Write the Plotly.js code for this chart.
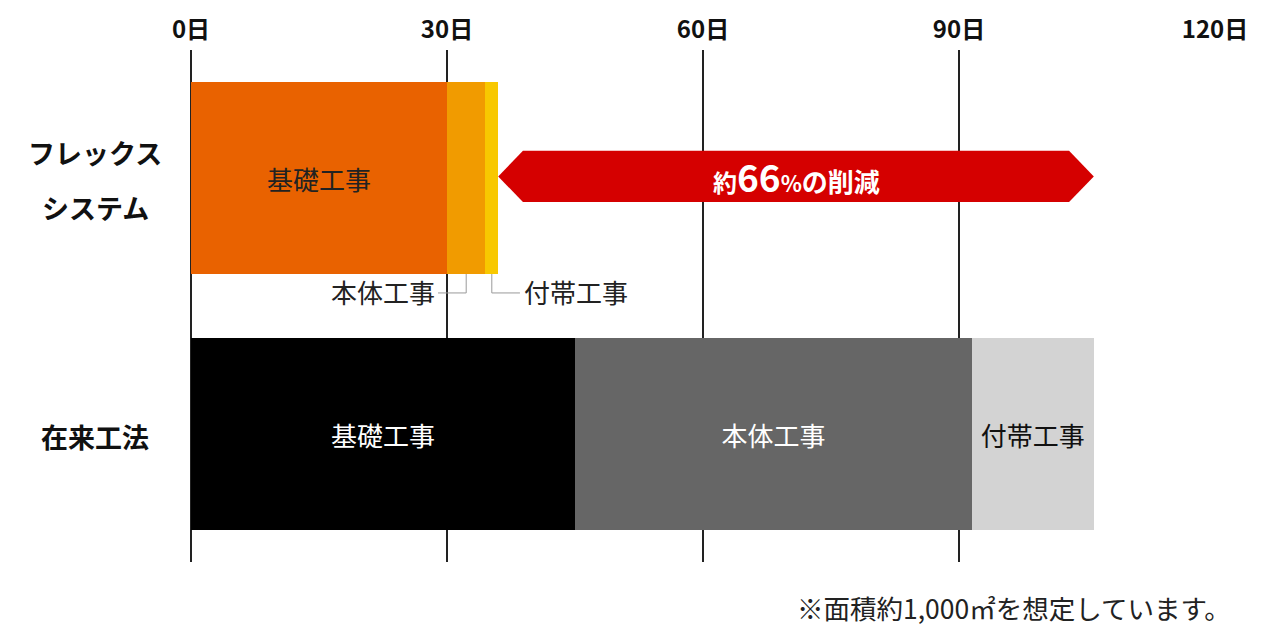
<!DOCTYPE html>
<html>
<head>
<meta charset="utf-8">
<script src="https://cdn.plot.ly/plotly-3.0.1.min.js"></script>
<style>
  html, body { margin: 0; padding: 0; background: #fff; }
  #chart { width: 1280px; height: 640px; }
</style>
</head>
<body>
<div id="chart"></div>
<script>
  // Values (days per phase).
  const categories = ["フレックスシステム", "在来工法"];
  const categoryLines = [["フレックス", "システム"], ["在来工法"]];
  const phases = ["基礎工事", "本体工事", "付帯工事"];
  const flexDays = [30, 4.5, 1.5];
  const conventionalDays = [45, 46.5, 14.3];
  const tickDays = [0, 30, 60, 90, 120];
  const reductionText = "約66%の削減";
  const footnote = "※面積約1,000㎡を想定しています。";

  const FONT = "Noto Sans CJK JP, Noto Sans, sans-serif";
  const FLEX_COLOURS = ["#E96200", "#F19B00", "#F8C800"];
  const CONV_COLOURS = ["#000000", "#666666", "#D3D3D3"];
  const CONV_TEXT = ["#FFFFFF", "#FFFFFF", "#111111"];
  const ARROW_RED = "#D50000";
  const CALLOUT_GREY = "#9A9A9A";

  const yPos = categories.map((_, i) => i);
  const BAR_W = 0.75;

  const sum = (a) => a.reduce((s, v) => s + v, 0);

  // One trace per phase, stacked: flex row + conventional row.
  const traces = phases.map((p, i) => ({
    type: "bar",
    orientation: "h",
    name: p,
    y: yPos,
    x: [flexDays[i], conventionalDays[i]],
    width: BAR_W,
    marker: { color: [FLEX_COLOURS[i], CONV_COLOURS[i]], line: { width: 0 } },
    // only the flex foundation bar carries its label inside; the thin ones get callouts
    text: [i === 0 ? p : "", p],
    textposition: "inside",
    insidetextanchor: "middle",
    constraintext: "none",
    textfont: { family: FONT, size: 26, color: ["#222222", CONV_TEXT[i]] },
    hoverinfo: "skip",
    showlegend: false,
  }));

  // ---- callouts for the thin flex segments ----
  const barBottom = yPos[0] + BAR_W / 2;
  const calloutY = yPos[0] + 0.449;
  const mainMid = flexDays[0] + flexDays[1] / 2;
  const extraMid = flexDays[0] + flexDays[1] + flexDays[2] / 2;
  const line = { color: CALLOUT_GREY, width: 1 };
  const shapes = [
    { type: "line", xref: "x", yref: "y", x0: mainMid, x1: mainMid, y0: barBottom, y1: calloutY, line },
    { type: "line", xref: "x", yref: "y", x0: mainMid, x1: mainMid - 3.3, y0: calloutY, y1: calloutY, line },
    { type: "line", xref: "x", yref: "y", x0: extraMid, x1: extraMid, y0: barBottom, y1: calloutY, line },
    { type: "line", xref: "x", yref: "y", x0: extraMid, x1: extraMid + 3.3, y0: calloutY, y1: calloutY, line },
  ];

  // ---- reduction arrow, spanning flex total -> conventional total ----
  const xs = sum(flexDays);
  const xe = sum(conventionalDays);
  const head = 2.9;
  const yc = yPos[0] - 0.006;
  const half = 0.1;
  shapes.push({
    type: "path",
    xref: "x",
    yref: "y",
    path: `M${xs},${yc} L${xs + head},${yc - half} L${xe - head},${yc - half} ` +
          `L${xe},${yc} L${xe - head},${yc + half} L${xs + head},${yc + half} Z`,
    fillcolor: ARROW_RED,
    line: { width: 0 },
    layer: "above",
  });

  const annotations = [];

  // category labels on the left
  const labelX = (95 - 191) / 1024;
  categoryLines.forEach((lines, i) => {
    const shifts = lines.length === 2 ? [26, -29] : [-2];
    lines.forEach((t, j) => {
      annotations.push({
        xref: "paper", yref: "y", x: labelX, y: yPos[i],
        xanchor: "center", yanchor: "middle", yshift: shifts[j],
        text: t, showarrow: false,
        font: { family: FONT, size: 27, color: "#111", weight: "bold" },
      });
    });
  });

  // callout texts
  annotations.push(
    {
      xref: "x", yref: "y", x: mainMid - 3.4, y: calloutY, xanchor: "right", yanchor: "middle",
      text: phases[1], showarrow: false, yshift: 1,
      font: { family: FONT, size: 26, color: "#222" },
    },
    {
      xref: "x", yref: "y", x: extraMid + 3.5, y: calloutY, xanchor: "left", yanchor: "middle",
      text: phases[2], showarrow: false, yshift: 1,
      font: { family: FONT, size: 26, color: "#222" },
    },
  );

  // arrow label: mixed sizes
  const m = reductionText.match(/^(約)(\d+)(%)(.*)$/);
  annotations.push({
    xref: "x", yref: "y", x: (xs + xe) / 2, y: yc, xanchor: "center", yanchor: "middle",
    text: `<span style="font-size:24px">${m[1]}</span><span style="font-size:37px">${m[2]}</span>` +
          `<span style="font-size:22px">${m[3]}</span><span style="font-size:26px">${m[4]}</span>`,
    showarrow: false,
    font: { family: FONT, size: 26, color: "#FFFFFF", weight: "bold" },
  });

  // footnote
  annotations.push({
    xref: "paper", yref: "paper", x: 1.018, y: (562 - 607) / 512,
    xanchor: "right", yanchor: "middle",
    text: footnote, showarrow: false,
    font: { family: FONT, size: 26.5, color: "#222" },
  });

  const layout = {
    width: 1280,
    height: 640,
    margin: { l: 191, r: 65, t: 50, b: 78 },
    paper_bgcolor: "#FFFFFF",
    plot_bgcolor: "#FFFFFF",
    barmode: "stack",
    bargap: 0.25,
    font: { family: FONT, color: "#111" },
    xaxis: {
      side: "top",
      range: [0, 120],
      tickmode: "array",
      tickvals: tickDays,
      ticktext: tickDays.map((d) => `${d}日`),
      ticks: "",
      ticklabelstandoff: 6,
      tickfont: { family: FONT, size: 24, color: "#111", weight: "bold" },
      showgrid: true,
      gridcolor: "#222222",
      gridwidth: 1.5,
      zeroline: true,
      zerolinecolor: "#222222",
      zerolinewidth: 1.5,
      showline: false,
      fixedrange: true,
    },
    yaxis: {
      range: [1.5, -0.5],
      showticklabels: false,
      showgrid: false,
      zeroline: false,
      showline: false,
      ticks: "",
      fixedrange: true,
    },
    shapes,
    annotations,
  };

  Plotly.newPlot("chart", traces, layout, { displayModeBar: false, staticPlot: true });
</script>
</body>
</html>
